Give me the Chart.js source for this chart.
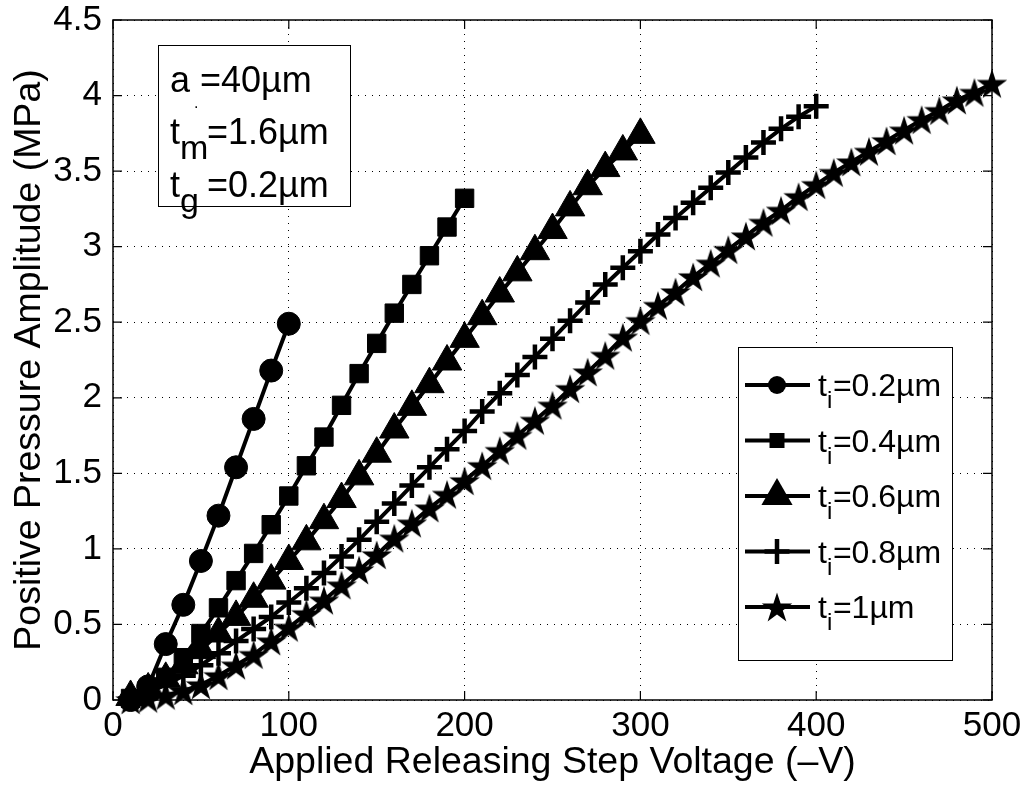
<!DOCTYPE html>
<html>
<head>
<meta charset="utf-8">
<script src="https://cdn.jsdelivr.net/npm/chart.js@4.4.0/dist/chart.umd.min.js"></script>
<style>
  html, body { margin: 0; padding: 0; background: #fff; }
  #wrap { width: 1022px; height: 787px; }
</style>
</head>
<body>
<div id="wrap"><canvas id="chart" width="1022" height="787"></canvas></div>
<script>
// --- Data ---
const voltage = [10, 20, 30, 40, 50, 60, 70, 80, 90, 100,
  110, 120, 130, 140, 150, 160, 170, 180, 190, 200,
  210, 220, 230, 240, 250, 260, 270, 280, 290, 300,
  310, 320, 330, 340, 350, 360, 370, 380, 390, 400,
  410, 420, 430, 440, 450, 460, 470, 480, 490, 500];

const ti02 = [0.00, 0.09, 0.37, 0.63, 0.92, 1.22, 1.54, 1.86, 2.18, 2.49];
const ti04 = [0.01, 0.06, 0.15, 0.28, 0.44, 0.61, 0.79, 0.97, 1.16, 1.35,
  1.55, 1.74, 1.95, 2.16, 2.36, 2.56, 2.75, 2.94, 3.13, 3.32];
const ti06 = [0.02, 0.07, 0.14, 0.23, 0.33, 0.44, 0.55, 0.67, 0.79, 0.92,
  1.05, 1.19, 1.33, 1.48, 1.63, 1.79, 1.94, 2.09, 2.24, 2.39,
  2.54, 2.69, 2.83, 2.97, 3.11, 3.26, 3.40, 3.52, 3.63, 3.74];
const ti08 = [0.01, 0.05, 0.10, 0.16, 0.23, 0.31, 0.39, 0.47, 0.55, 0.645,
  0.74, 0.84, 0.95, 1.06, 1.18, 1.30, 1.42, 1.54, 1.66, 1.78,
  1.91, 2.03, 2.15, 2.27, 2.39, 2.51, 2.63, 2.75, 2.86, 2.97,
  3.08, 3.19, 3.29, 3.39, 3.49, 3.59, 3.69, 3.78, 3.86, 3.93];
const ti10 = [0.00, 0.01, 0.03, 0.06, 0.10, 0.16, 0.23, 0.30, 0.39, 0.48,
  0.57, 0.66, 0.76, 0.86, 0.96, 1.07, 1.17, 1.27, 1.36, 1.45,
  1.55, 1.65, 1.75, 1.85, 1.95, 2.06, 2.17, 2.28, 2.40, 2.51,
  2.61, 2.70, 2.80, 2.89, 2.98, 3.07, 3.16, 3.24, 3.33, 3.41,
  3.49, 3.56, 3.63, 3.70, 3.77, 3.84, 3.90, 3.97, 4.02, 4.08];

const seriesValues = [ti02, ti04, ti06, ti08, ti10];
const seriesSub = ['i', 'i', 'i', 'i', 'i'];
const seriesText = ['=0.2\u00b5m', '=0.4\u00b5m', '=0.6\u00b5m', '=0.8\u00b5m', '=1\u00b5m'];
const seriesMarker = ['circle', 'rect', 'triangle', 'cross', 'star'];

const xTicks = [0, 100, 200, 300, 400, 500];
const yTicks = [0, 0.5, 1, 1.5, 2, 2.5, 3, 3.5, 4, 4.5];
const yTickLabels = ['0', '0.5', '1', '1.5', '2', '2.5', '3', '3.5', '4', '4.5'];

const xTitle = 'Applied Releasing Step Voltage (\u2013V)';
const yTitle = 'Positive Pressure Amplitude (MPa)';

const FONT = '"Liberation Sans", Arial, Helvetica, sans-serif';

// --- Filled five-point star (Chart.js 'star' is only an asterisk) ---
function makeStar(R) {
  const c = document.createElement('canvas');
  const s = Math.ceil(R * 2 + 2);
  c.width = s; c.height = s;
  const g = c.getContext('2d');
  const r = R * 0.382;
  g.beginPath();
  for (let k = 0; k < 10; k++) {
    const rad = k % 2 === 0 ? R : r;
    const a = -Math.PI / 2 + k * Math.PI / 5;
    const px = s / 2 + rad * Math.cos(a);
    const py = s / 2 + 1.5 + rad * Math.sin(a);
    if (k === 0) g.moveTo(px, py); else g.lineTo(px, py);
  }
  g.closePath();
  g.fillStyle = '#000';
  g.fill();
  return c;
}
const starImg = makeStar(16);
const starLegendImg = makeStar(16);

function markerStyle(m) {
  switch (m) {
    case 'circle': return { pointStyle: 'circle', pointRadius: 11.5, pointBorderWidth: 1 };
    case 'rect': return { pointStyle: 'rect', pointRadius: 13, pointBorderWidth: 1 };
    case 'triangle': return { pointStyle: 'triangle', pointRadius: 17, pointBorderWidth: 1 };
    case 'cross': return { pointStyle: 'cross', pointRadius: 12.5, pointBorderWidth: 4.5 };
    default: return { pointStyle: starImg, pointRadius: 16, pointBorderWidth: 0 };
  }
}

const datasets = seriesValues.map((vals, i) => Object.assign({
  label: 't' + seriesSub[i] + seriesText[i],
  data: vals.map((v, k) => ({ x: voltage[k], y: v })),
  borderColor: '#000',
  backgroundColor: '#000',
  pointBackgroundColor: '#000',
  pointBorderColor: '#000',
  borderWidth: 4,
  tension: 0,
  clip: false,
  order: seriesValues.length - i
}, markerStyle(seriesMarker[i])));

// --- Legend marker drawing ---
function drawLegendMarker(ctx, m, x, y) {
  ctx.save();
  ctx.fillStyle = '#000';
  ctx.strokeStyle = '#000';
  if (m === 'circle') {
    ctx.beginPath(); ctx.arc(x, y, 9, 0, Math.PI * 2); ctx.fill();
  } else if (m === 'rect') {
    ctx.fillRect(x - 7.5, y - 7.5, 15, 15);
  } else if (m === 'triangle') {
    const r = 18;
    ctx.beginPath();
    ctx.moveTo(x, y - r);
    ctx.lineTo(x + r * Math.sin(2 * Math.PI / 3), y + r / 2);
    ctx.lineTo(x - r * Math.sin(2 * Math.PI / 3), y + r / 2);
    ctx.closePath(); ctx.fill();
  } else if (m === 'cross') {
    ctx.lineWidth = 4.5;
    ctx.beginPath();
    ctx.moveTo(x - 12.5, y); ctx.lineTo(x + 12.5, y);
    ctx.moveTo(x, y - 12.5); ctx.lineTo(x, y + 12.5);
    ctx.stroke();
  } else {
    ctx.drawImage(starLegendImg, x - starLegendImg.width / 2, y - starLegendImg.height / 2);
  }
  ctx.restore();
}

// text with a subscript: main, sub, rest
function subText(ctx, x, y, main, sub, rest, size, subSize, subDrop, gap) {
  ctx.font = size + 'px ' + FONT;
  ctx.fillText(main, x, y);
  let cx = x + ctx.measureText(main).width;
  ctx.font = subSize + 'px ' + FONT;
  ctx.fillText(sub, cx, y + subDrop);
  cx += gap !== undefined ? gap : ctx.measureText(sub).width;
  ctx.font = size + 'px ' + FONT;
  ctx.fillText(rest, cx, y);
}

const matlabFrame = {
  id: 'matlabFrame',
  afterDraw(chart) {
    const { ctx, chartArea: a, scales } = chart;
    ctx.save();
    // axes box
    ctx.strokeStyle = '#000';
    ctx.lineWidth = 1.5;
    ctx.strokeRect(a.left, a.top, a.right - a.left, a.bottom - a.top);
    // inward ticks on all four sides
    ctx.lineWidth = 1.2;
    ctx.beginPath();
    const tl = 9;
    xTicks.forEach(v => {
      const px = scales.x.getPixelForValue(v);
      ctx.moveTo(px, a.bottom); ctx.lineTo(px, a.bottom - tl);
      ctx.moveTo(px, a.top); ctx.lineTo(px, a.top + tl);
    });
    yTicks.forEach(v => {
      const py = scales.y.getPixelForValue(v);
      ctx.moveTo(a.left, py); ctx.lineTo(a.left + tl, py);
      ctx.moveTo(a.right, py); ctx.lineTo(a.right - tl, py);
    });
    ctx.stroke();

    // parameter box (top left)
    ctx.fillStyle = '#fff';
    ctx.fillRect(158, 45, 192, 161);
    ctx.lineWidth = 1;
    ctx.strokeRect(158.5, 45.5, 192, 161);
    ctx.fillStyle = '#000';
    ctx.textBaseline = 'alphabetic';
    ctx.textAlign = 'left';
    ctx.font = '36px ' + FONT;
    ctx.fillText('a =40\u00b5m', 170, 92);
    ctx.font = '16px ' + FONT;
    ctx.fillText('.', 194, 108);
    subText(ctx, 170, 144, 't', 'm', '=1.6\u00b5m', 36, 34, 15, 27);
    subText(ctx, 170, 197, 't', 'g', '=0.2\u00b5m', 36, 34, 15, 27);

    // legend (bottom right)
    const lx = 738, ly = 347, lw = 214, lh = 313;
    ctx.fillStyle = '#fff';
    ctx.fillRect(lx, ly, lw, lh);
    ctx.lineWidth = 1;
    ctx.strokeStyle = '#000';
    ctx.strokeRect(lx + 0.5, ly + 0.5, lw, lh);
    seriesValues.forEach((_, i) => {
      const y = 385 + i * 55.5;
      ctx.lineWidth = 4;
      ctx.beginPath();
      ctx.moveTo(745, y); ctx.lineTo(810, y);
      ctx.stroke();
      drawLegendMarker(ctx, seriesMarker[i], 777, y);
      ctx.fillStyle = '#000';
      subText(ctx, 818, y + 11, 't', seriesSub[i], seriesText[i], 32, 24, 12, 6);
    });
    ctx.restore();
  }
};

const tickFont = { family: FONT, size: 35, lineHeight: 1.2 };
const titleFont = { family: FONT, size: 37.5, lineHeight: 1.2 };

new Chart(document.getElementById('chart'), {
  type: 'line',
  data: { datasets },
  options: {
    responsive: false,
    animation: false,
    devicePixelRatio: 1,
    layout: { padding: { top: 20, right: 30, left: 0, bottom: 0 } },
    plugins: { legend: { display: false }, tooltip: { enabled: false } },
    scales: {
      x: {
        type: 'linear',
        min: 0, max: 500,
        afterBuildTicks: s => { s.ticks = xTicks.map(v => ({ value: v })); },
        afterFit: s => { s.height = 87; s.paddingLeft = 0; s.paddingRight = 0; },
        ticks: { font: tickFont, color: '#000', padding: 5, maxRotation: 0, autoSkip: false,
          callback: v => String(v) },
        grid: { color: '#000', lineWidth: 1, drawTicks: false },
        border: { display: false, dash: [1, 6] },
        title: { display: true, text: xTitle, font: titleFont, color: '#000', padding: { top: 0, bottom: 2 } }
      },
      y: {
        type: 'linear',
        min: 0, max: 4.5,
        afterBuildTicks: s => { s.ticks = yTicks.map(v => ({ value: v })); },
        afterFit: s => { s.width = 113; s.paddingTop = 0; s.paddingBottom = 0; },
        ticks: { font: tickFont, color: '#000', padding: 11, autoSkip: false,
          callback: (v) => yTickLabels[yTicks.indexOf(v)] },
        grid: { color: '#000', lineWidth: 1, drawTicks: false },
        border: { display: false, dash: [1, 6] },
        title: { display: true, text: yTitle, font: titleFont, color: '#000', padding: { top: 7, bottom: 0 } }
      }
    }
  },
  plugins: [matlabFrame]
});
</script>
</body>
</html>
